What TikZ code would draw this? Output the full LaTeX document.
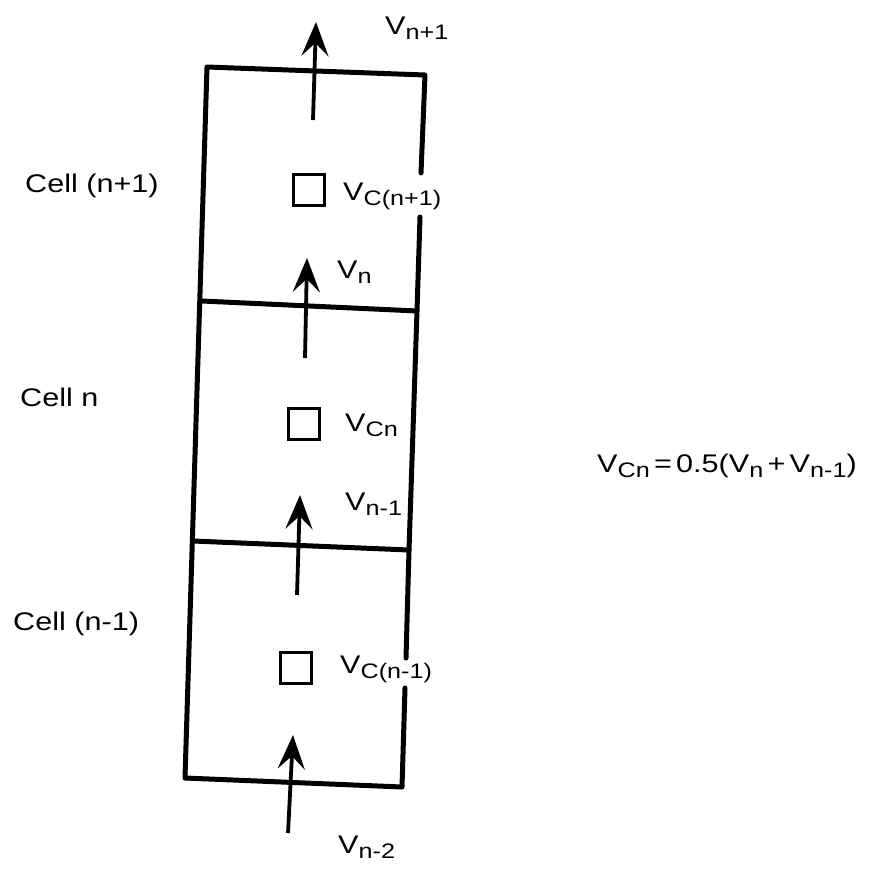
\documentclass[tikz,border=0pt]{standalone}
\usepackage{fontspec}
\setmainfont[FakeStretch=1.2]{Liberation Sans}
\usetikzlibrary{arrows.meta}
\newcommand{\subf}{\fontsize{21}{21}\selectfont}
\newcommand{\Vlab}[1]{V\raisebox{-5pt}{\subf #1}}
\begin{document}
\begin{tikzpicture}[x=1pt,y=-1pt,
  lbl/.style={inner sep=0pt, anchor=base west, font=\fontsize{25.5}{25.5}\selectfont},
  edge/.style={line width=5pt, line cap=round, line join=round},
  sq/.style={draw, line width=2.2pt, minimum size=31pt, inner sep=0pt, anchor=center},
  arr/.style={line width=3.8pt, -{Stealth[length=34pt,width=27pt,inset=13pt]}}]
\useasboundingbox (0,0) rectangle (877,868);
% corners of the column
\coordinate (tl) at (207,67);
\coordinate (tr) at (425,75);
\coordinate (b1l) at (202,301);
\coordinate (b1r) at (417,311);
\coordinate (b2l) at (193,541);
\coordinate (b2r) at (409,550);
\coordinate (bl) at (185,778);
\coordinate (br) at (402,787);
\coordinate (g1a) at (421,173);
\coordinate (g1b) at (420,217);
\coordinate (g2a) at (406,658);
\coordinate (g2b) at (405,688);
% outline
\draw[edge] (g1a) -- (tr) -- (tl) -- (bl) -- (br) -- (g2b);
\draw[edge] (g1b) -- (b1r) -- (b2r) -- (g2a);
\draw[edge] (b1l) -- (b1r);
\draw[edge] (b2l) -- (b2r);
% centre squares
\node[sq] (s1) at (309,190) {};
\node[sq] (s2) at (304,424) {};
\node[sq] (s3) at (296,668) {};
% arrows
\coordinate (a1t) at (313,120); \coordinate (a1h) at (316,22);
\coordinate (a2t) at (305,358); \coordinate (a2h) at (307,258);
\coordinate (a3t) at (297,595); \coordinate (a3h) at (300,495);
\coordinate (a4t) at (288,833); \coordinate (a4h) at (293,735);
\draw[arr] (a1t) -- (a1h);
\draw[arr] (a2t) -- (a2h);
\draw[arr] (a3t) -- (a3h);
\draw[arr] (a4t) -- (a4h);
% labels
\node[lbl] (vn1) at (385,34) {\Vlab{n+1}};
\node[lbl] (c1) at (25,192) {Cell (n+1)};
\node[lbl] (c2) at (20,406) {Cell n};
\node[lbl] (c3) at (13,630) {Cell (n-1)};
\node[lbl] (vc1) at (343,200) {\Vlab{C(n+1)}};
\node[lbl] (vn) at (337,278) {\Vlab{n}};
\node[lbl] (vc2) at (345,431) {\Vlab{Cn}};
\node[lbl] (vnm1) at (345,510) {\Vlab{n-1}};
\node[lbl] (vc3) at (340,673) {\Vlab{C(n-1)}};
\node[lbl] (vnm2) at (338,853) {\Vlab{n-2}};
\node[lbl] (eq) at (597,472) {\Vlab{Cn}\,=\,0.5(\Vlab{n}\,+\,\Vlab{n-1})};
\end{tikzpicture}
\end{document}
